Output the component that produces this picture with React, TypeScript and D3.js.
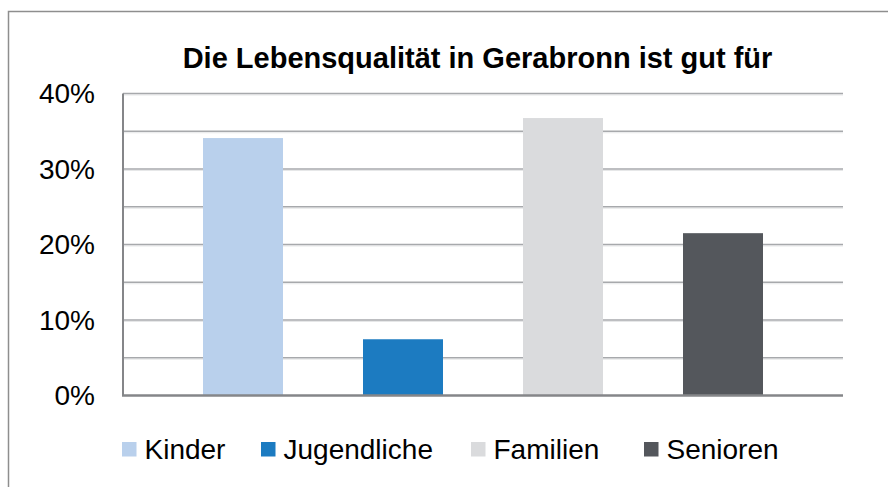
import React from "react";
import * as d3 from "d3";

const categories = ["Kinder", "Jugendliche", "Familien", "Senioren"];
const values = [34.1, 7.45, 36.75, 21.5];
const colors = ["#B9D0EC", "#1C7BC1", "#DADBDD", "#54575C"];
const majorTicks = [0, 10, 20, 30, 40];
const gridTicks = [5, 10, 15, 20, 25, 30, 35, 40];
const title = "Die Lebensqualität in Gerabronn ist gut für";

const W = 888;
const H = 487;
const plot = { left: 123, right: 843, top: 93.5, bottom: 395.5 };
const legendX = [122, 261, 471, 644];
const FONT = "'Liberation Sans', Arial, sans-serif";

export default function App() {
  const y = d3.scaleLinear().domain([0, 40]).range([plot.bottom, plot.top]);
  const x = d3
    .scaleBand<string>()
    .domain(categories)
    .range([plot.left, plot.right])
    .paddingInner(0.5)
    .paddingOuter(0.5);

  return (
    <div style={{ position: "fixed", left: 0, top: 0 }}>
      <svg width={W} height={H} style={{ display: "block", background: "#fff" }}>
        <rect x={0} y={0} width={W} height={H} fill="#fff" />
        <rect x={8.5} y={11.5} width={W + 20} height={H + 20} fill="none" stroke="#8E8E8E" strokeWidth={1.5} />
        <text
          x={477.5}
          y={67.5}
          textAnchor="middle"
          fontFamily={FONT}
          fontWeight="bold"
          fontSize={29}
          fill="#000"
        >
          {title}
        </text>
        {gridTicks.map((t) => (
          <g key={t}>
            <line x1={plot.left} x2={plot.right} y1={y(t) + 1.5} y2={y(t) + 1.5} stroke="#E6E7E8" strokeWidth={1} />
            <line x1={plot.left} x2={plot.right} y1={y(t)} y2={y(t)} stroke="#A7A9AC" strokeWidth={1.5} />
          </g>
        ))}
        {categories.map((c, i) => (
          <rect
            key={c}
            x={x(c)}
            y={y(values[i])}
            width={x.bandwidth()}
            height={y(0) - y(values[i])}
            fill={colors[i]}
          />
        ))}
        <line x1={plot.left} x2={plot.left} y1={plot.top} y2={plot.bottom} stroke="#858689" strokeWidth={2} />
        <line x1={plot.left - 1} x2={plot.right} y1={plot.bottom} y2={plot.bottom} stroke="#858689" strokeWidth={2.7} />
        {majorTicks.map((t) => (
          <text
            key={t}
            x={95}
            y={y(t)}
            dy="0.35em"
            textAnchor="end"
            fontFamily={FONT}
            fontSize={28}
            fill="#000"
          >
            {d3.format(".0%")(t / 100)}
          </text>
        ))}
        {categories.map((c, i) => (
          <g key={c} transform={`translate(${legendX[i]},442)`}>
            <rect x={0} y={0} width={14.5} height={14.5} fill={colors[i]} />
            <text x={22.5} y={17.3} fontFamily={FONT} fontSize={28} fill="#000">
              {c}
            </text>
          </g>
        ))}
      </svg>
    </div>
  );
}
